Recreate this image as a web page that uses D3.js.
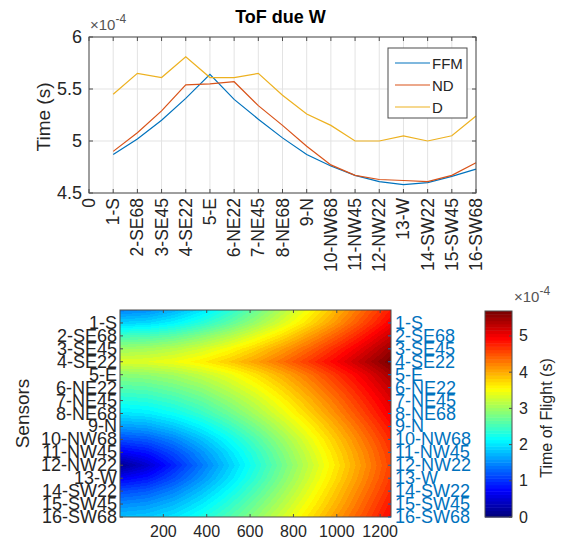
<!DOCTYPE html>
<html>
<head>
<meta charset="utf-8">
<script src="https://cdn.jsdelivr.net/npm/d3@7/dist/d3.min.js"></script>
<style>
  body { margin: 0; background: #fff; }
  svg { display: block; }
  text { font-family: "Liberation Sans", Arial, Helvetica, sans-serif; fill: #262626; }
</style>
</head>
<body>
<svg id="fig" width="563" height="545"></svg>
<script>
// ---- data -------------------------------------------------------------
const sensors = ["1-S","2-SE68","3-SE45","4-SE22","5-E","6-NE22","7-NE45","8-NE68",
                 "9-N","10-NW68","11-NW45","12-NW22","13-W","14-SW22","15-SW45","16-SW68"];

// time of flight per sensor, in units of 1e-4 s
const ffm = [4.87,5.02,5.20,5.41,5.64,5.40,5.21,5.03,4.87,4.76,4.67,4.61,4.58,4.60,4.66,4.73];
const nd  = [4.90,5.08,5.29,5.54,5.55,5.57,5.34,5.15,4.95,4.77,4.67,4.63,4.62,4.61,4.67,4.79];
const dd  = [5.45,5.65,5.61,5.81,5.61,5.61,5.65,5.44,5.26,5.15,5.00,5.00,5.05,5.00,5.05,5.24];

const seriesNames = ["FFM","ND","D"];
const topYTicks = [4.5, 5, 5.5, 6];

// time of flight map (units of 1e-4 s): rows at sensor positions, columns at gridX
const gridX = [0,125,250,375,500,625,750,875,1000,1125,1250];
const gridRowPos = [0,1,2,3,4,5,6,7,8,9,10,11,12,13,14,15,16];
const tof = [
  [1.45,1.52,1.72,2.00,2.34,2.72,3.12,3.53,3.96,4.39,4.82],
  [1.90,1.95,2.11,2.35,2.64,2.98,3.35,3.74,4.14,4.56,4.98],
  [2.50,2.54,2.66,2.86,3.10,3.40,3.72,4.08,4.45,4.84,5.24],
  [3.00,3.04,3.14,3.30,3.52,3.78,4.08,4.40,4.75,5.11,5.49],
  [3.35,3.38,3.47,3.62,3.82,4.06,4.34,4.65,4.98,5.33,5.69],
  [2.90,2.94,3.04,3.21,3.43,3.70,4.00,4.33,4.69,5.05,5.44],
  [2.60,2.64,2.76,2.94,3.19,3.47,3.79,4.14,4.51,4.89,5.28],
  [2.30,2.35,2.48,2.68,2.95,3.25,3.59,3.96,4.34,4.74,5.14],
  [2.00,2.05,2.20,2.43,2.72,3.05,3.41,3.79,4.19,4.60,5.02],
  [1.60,1.66,1.85,2.11,2.44,2.80,3.19,3.60,4.01,4.44,4.87],
  [1.15,1.24,1.47,1.80,2.17,2.57,2.99,3.42,3.86,4.30,4.74],
  [0.70,0.84,1.16,1.55,1.97,2.40,2.85,3.30,3.75,4.20,4.65],
  [0.15,0.48,0.93,1.39,1.85,2.30,2.76,3.22,3.68,4.14,4.60],
  [0.70,0.84,1.16,1.55,1.97,2.40,2.85,3.30,3.75,4.20,4.65],
  [1.15,1.24,1.47,1.80,2.17,2.57,2.99,3.42,3.86,4.30,4.74],
  [1.50,1.57,1.76,2.04,2.37,2.75,3.14,3.55,3.97,4.40,4.84],
  [1.80,1.86,2.02,2.27,2.57,2.92,3.30,3.69,4.10,4.51,4.94]
];
const heatXTicks = [200,400,600,800,1000,1200];
const cbTicks = [0,1,2,3,4,5];

// ---- styling ----------------------------------------------------------
const colors = ["#0072BD","#D95319","#EDB120"];
const axisColor = "#4d4d4d";
const gridColor = "#e3e3e3";

const svg = d3.select("#fig");

// helper: "×10^-4" multiplier label
function exponentLabel(x, y) {
  const t = svg.append("text").attr("x", x).attr("y", y)
    .style("font-size", "15px").style("fill", "#555");
  t.append("tspan").text("\u00d710");
  t.append("tspan").attr("dy", -7).style("font-size", "12px").text("-4");
}

// ---- top: line chart ---------------------------------------------------
const T = { l: 89, r: 476, t: 37, b: 193 };
const xTop = d3.scaleLinear().domain([0, 16]).range([T.l, T.r]);
const yTop = d3.scaleLinear().domain([4.5, 6]).range([T.b, T.t]);
const topXPos = d3.range(0, 17);
const topXLabels = ["0"].concat(sensors);

const gTop = svg.append("g");
// grid
gTop.selectAll("line.gx").data(topXPos).join("line")
  .attr("x1", d => xTop(d)).attr("x2", d => xTop(d))
  .attr("y1", T.t).attr("y2", T.b)
  .attr("stroke", gridColor).attr("stroke-width", 1);
gTop.selectAll("line.gy").data(topYTicks).join("line")
  .attr("x1", T.l).attr("x2", T.r)
  .attr("y1", d => yTop(d)).attr("y2", d => yTop(d))
  .attr("stroke", gridColor).attr("stroke-width", 1);

// series lines
const lineGen = d3.line().x((d, i) => xTop(i + 1)).y(d => yTop(d));
[ffm, nd, dd].forEach((s, k) => {
  gTop.append("path").datum(s).attr("d", lineGen)
    .attr("fill", "none").attr("stroke", colors[k]).attr("stroke-width", 1.2);
});

// frame and ticks
gTop.append("rect").attr("x", T.l).attr("y", T.t)
  .attr("width", T.r - T.l).attr("height", T.b - T.t)
  .attr("fill", "none").attr("stroke", axisColor).attr("stroke-width", 1);
topXPos.forEach(d => {
  gTop.append("line").attr("x1", xTop(d)).attr("x2", xTop(d))
    .attr("y1", T.b).attr("y2", T.b - 4).attr("stroke", axisColor);
  gTop.append("line").attr("x1", xTop(d)).attr("x2", xTop(d))
    .attr("y1", T.t).attr("y2", T.t + 4).attr("stroke", axisColor);
});
topYTicks.forEach(d => {
  gTop.append("line").attr("x1", T.l).attr("x2", T.l + 4)
    .attr("y1", yTop(d)).attr("y2", yTop(d)).attr("stroke", axisColor);
  gTop.append("line").attr("x1", T.r).attr("x2", T.r - 4)
    .attr("y1", yTop(d)).attr("y2", yTop(d)).attr("stroke", axisColor);
});

// tick labels
gTop.selectAll("text.yt").data(topYTicks).join("text")
  .attr("x", T.l - 7).attr("y", d => yTop(d))
  .attr("text-anchor", "end").attr("dominant-baseline", "central")
  .style("font-size", "18px").text(d => d);
gTop.selectAll("text.xt").data(topXPos).join("text")
  .attr("transform", d => `translate(${xTop(d)},${T.b + 5}) rotate(-90)`)
  .attr("text-anchor", "end").attr("dominant-baseline", "central")
  .style("font-size", "17.5px").text(d => topXLabels[d]);

// labels
svg.append("text").attr("x", (T.l + T.r) / 2 - 2).attr("y", 23)
  .attr("text-anchor", "middle").style("font-size", "18px").style("font-weight", "bold")
  .style("fill", "#000").text("ToF due W");
svg.append("text").attr("transform", `translate(43,${(T.t + T.b) / 2 + 2}) rotate(-90)`)
  .attr("text-anchor", "middle").attr("dominant-baseline", "central")
  .style("font-size", "19px").text("Time (s)");
exponentLabel(T.l + 1, 30);

// legend
const L = { x: 388, y: 48, w: 79, h: 70 };
const gLeg = svg.append("g");
gLeg.append("rect").attr("x", L.x).attr("y", L.y).attr("width", L.w).attr("height", L.h)
  .attr("fill", "#fff").attr("stroke", axisColor).attr("stroke-width", 1);
seriesNames.forEach((name, k) => {
  const cy = L.y + 15 + k * 22;
  gLeg.append("line").attr("x1", L.x + 7).attr("x2", L.x + 42)
    .attr("y1", cy).attr("y2", cy).attr("stroke", colors[k]).attr("stroke-width", 1.2);
  gLeg.append("text").attr("x", L.x + 44).attr("y", cy)
    .attr("dominant-baseline", "central").style("font-size", "15px").text(name);
});

// ---- bottom: time of flight map ----------------------------------------
const H = { l: 120, r: 391, t: 310, b: 517 };
const xHeat = d3.scaleLinear().domain([0, 1250]).range([H.l, H.r]);
const yHeat = d3.scaleLinear().domain([0, 16]).range([H.t, H.b]);
const cMax = d3.max(tof.flat());
const nLevels = 64;

const jet = d3.scaleLinear()
  .domain([0, 0.125, 0.375, 0.625, 0.875, 1])
  .range(["#00007f", "#0000ff", "#00ffff", "#ffff00", "#ff0000", "#7f0000"])
  .interpolate(d3.interpolateRgb).clamp(true);
const levelColor = lv => jet(lv / (nLevels - 1));
const valueLevel = v => Math.max(0, Math.min(nLevels - 1, Math.floor(v / cMax * nLevels)));

function sampleTof(xv, yv) {
  const ci = Math.max(0, Math.min(gridX.length - 2, d3.bisectRight(gridX, xv) - 1));
  const ri = Math.max(0, Math.min(gridRowPos.length - 2, d3.bisectRight(gridRowPos, yv) - 1));
  const fx = Math.max(0, Math.min(1, (xv - gridX[ci]) / (gridX[ci + 1] - gridX[ci])));
  const fy = Math.max(0, Math.min(1, (yv - gridRowPos[ri]) / (gridRowPos[ri + 1] - gridRowPos[ri])));
  const a = tof[ri][ci], b = tof[ri][ci + 1], c = tof[ri + 1][ci], d = tof[ri + 1][ci + 1];
  return (a * (1 - fx) + b * fx) * (1 - fy) + (c * (1 - fx) + d * fx) * fy;
}

const W = Math.round(H.r - H.l), Hh = Math.round(H.b - H.t);
const cv = document.createElement("canvas");
cv.width = W; cv.height = Hh;
const ctx = cv.getContext("2d");
const img = ctx.createImageData(W, Hh);
for (let py = 0; py < Hh; py++) {
  const yv = yHeat.invert(H.t + py + 0.5);
  for (let px = 0; px < W; px++) {
    const xv = xHeat.invert(H.l + px + 0.5);
    const col = d3.rgb(levelColor(valueLevel(sampleTof(xv, yv))));
    const o = (py * W + px) * 4;
    img.data[o] = col.r; img.data[o + 1] = col.g; img.data[o + 2] = col.b; img.data[o + 3] = 255;
  }
}
ctx.putImageData(img, 0, 0);
svg.append("image").attr("x", H.l).attr("y", H.t).attr("width", W).attr("height", Hh)
  .attr("preserveAspectRatio", "none").attr("href", cv.toDataURL());

const gHeat = svg.append("g");
gHeat.append("rect").attr("x", H.l).attr("y", H.t)
  .attr("width", H.r - H.l).attr("height", H.b - H.t)
  .attr("fill", "none").attr("stroke", axisColor).attr("stroke-width", 1);
heatXTicks.forEach(d => {
  gHeat.append("line").attr("x1", xHeat(d)).attr("x2", xHeat(d))
    .attr("y1", H.b).attr("y2", H.b - 3).attr("stroke", axisColor);
  gHeat.append("line").attr("x1", xHeat(d)).attr("x2", xHeat(d))
    .attr("y1", H.t).attr("y2", H.t + 3).attr("stroke", axisColor);
});
sensors.forEach((s, i) => {
  gHeat.append("line").attr("x1", H.l).attr("x2", H.l + 3)
    .attr("y1", yHeat(i + 1)).attr("y2", yHeat(i + 1)).attr("stroke", axisColor);
  gHeat.append("line").attr("x1", H.r).attr("x2", H.r - 3)
    .attr("y1", yHeat(i + 1)).attr("y2", yHeat(i + 1)).attr("stroke", colors[0]);
});
gHeat.selectAll("text.hx").data(heatXTicks).join("text")
  .attr("x", d => xHeat(d)).attr("y", H.b + 14)
  .attr("text-anchor", "middle").attr("dominant-baseline", "central")
  .style("font-size", "16px").text(d => d);
gHeat.selectAll("text.hyl").data(sensors).join("text")
  .attr("x", H.l - 3).attr("y", (d, i) => yHeat(i + 1))
  .attr("text-anchor", "end").attr("dominant-baseline", "central")
  .style("font-size", "18px").text(d => d);
gHeat.selectAll("text.hyr").data(sensors).join("text")
  .attr("x", H.r + 4).attr("y", (d, i) => yHeat(i + 1))
  .attr("text-anchor", "start").attr("dominant-baseline", "central")
  .style("font-size", "18px").style("fill", colors[0]).text(d => d);
svg.append("text").attr("transform", `translate(22,${(H.t + H.b) / 2}) rotate(-90)`)
  .attr("text-anchor", "middle").attr("dominant-baseline", "central")
  .style("font-size", "19px").text("Sensors");

// ---- colorbar ----------------------------------------------------------
const C = { l: 485, r: 512, t: 311, b: 517 };
const yCb = d3.scaleLinear().domain([0, cMax]).range([C.b, C.t]);
const levels = d3.range(nLevels);
svg.append("g").selectAll("rect").data(levels).join("rect")
  .attr("x", C.l).attr("width", C.r - C.l)
  .attr("y", d => yCb((d + 1) * cMax / nLevels))
  .attr("height", d => yCb(d * cMax / nLevels) - yCb((d + 1) * cMax / nLevels) + 0.5)
  .attr("fill", d => levelColor(d));
svg.append("rect").attr("x", C.l).attr("y", C.t).attr("width", C.r - C.l).attr("height", C.b - C.t)
  .attr("fill", "none").attr("stroke", axisColor).attr("stroke-width", 1);
cbTicks.forEach(d => {
  svg.append("line").attr("x1", C.r).attr("x2", C.r - 3)
    .attr("y1", yCb(d)).attr("y2", yCb(d)).attr("stroke", axisColor);
});
svg.append("g").selectAll("text").data(cbTicks).join("text")
  .attr("x", C.r + 7).attr("y", d => yCb(d))
  .attr("dominant-baseline", "central").style("font-size", "16px").text(d => d);
svg.append("text").attr("transform", `translate(546,${(C.t + C.b) / 2 + 4}) rotate(-90)`)
  .attr("text-anchor", "middle").attr("dominant-baseline", "central")
  .style("font-size", "16px").text("Time of Flight (s)");
exponentLabel(C.r + 2, 302);
</script>
</body>
</html>
